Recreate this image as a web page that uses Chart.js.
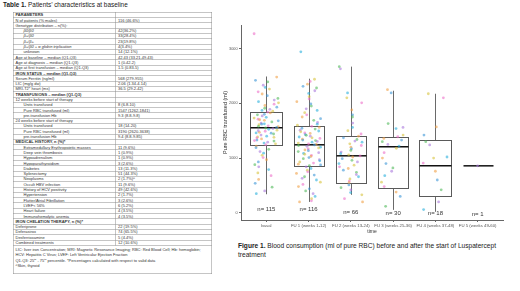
<!DOCTYPE html>
<html>
<head>
<meta charset="utf-8">
<script src="https://cdn.jsdelivr.net/npm/chart.js@4.4.1/dist/chart.umd.min.js"></script>
<style>
  html, body { margin: 0; padding: 0; background: #fff; }
  body { width: 520px; height: 291px; position: relative; overflow: hidden; font-family: "Liberation Sans", Arial, sans-serif; color: #222; }
  #title { position: absolute; left: 3px; top: 1px; font-size: 6.4px; white-space: nowrap; }
  #tableWrap { position: absolute; left: 13px; top: 12px; width: 398px; transform: scale(0.5); transform-origin: 0 0; }
  table { border-collapse: collapse; table-layout: fixed; width: 398px; font-size: 8px; color: #333; }
  td { border: 1.6px solid #8a8a8a; height: 9.6px; padding: 0 4px; line-height: 9.6px; white-space: nowrap; overflow: hidden; }
  td.l { width: 196px; }
  td.in { padding-left: 20px; }
  td.in2 { padding-left: 20px; font-style: italic; }
  tr.h td { font-weight: bold; }
  td.foot { height: 54px; line-height: 11px; white-space: normal; vertical-align: top; padding-top: 2px; }
  #chartBox { position: absolute; left: 215px; top: 15px; width: 300px; height: 225px; }
  #caption { position: absolute; left: 238px; top: 241px; font-size: 6.6px; line-height: 9px; white-space: nowrap; color: #222; }
</style>
</head>
<body>
<div id="title"><b>Table 1.</b> Patients’ characteristics at baseline</div>
<div id="tableWrap">
<table>
<tr class="h"><td class="l">PARAMETERS</td><td></td></tr>
<tr><td class="l">N of patients (% males)</td><td>116 (46.6%)</td></tr>
<tr><td class="l">Genotype distribution – n(%):</td><td></td></tr>
<tr><td class="l in2">β0/β0</td><td>42(36.2%)</td></tr>
<tr><td class="l in2">β+/β0</td><td>33(28.4%)</td></tr>
<tr><td class="l in2">β+/β+</td><td>23(19.8%)</td></tr>
<tr><td class="l in2">β+/β0 + α globin triplication</td><td>4(3.4%)</td></tr>
<tr><td class="l in">unknown</td><td>14 (12.1%)</td></tr>
<tr><td class="l">Age at baseline – median (Q1-Q3)</td><td>42.43 (33.21-49.43)</td></tr>
<tr><td class="l">Age at diagnosis – median (Q1-Q3)</td><td>1 (0.42-2)</td></tr>
<tr><td class="l">Age at first transfusion – median (Q1-Q3)</td><td>1.5 (0.83-5)</td></tr>
<tr class="h"><td class="l">IRON STATUS – median (Q1-Q3)</td><td></td></tr>
<tr><td class="l">Serum Ferritin (ng/ml)</td><td>568 (279-955)</td></tr>
<tr><td class="l">LIC (mg/g dw)</td><td>2.06 (1.34-4.14)</td></tr>
<tr><td class="l">MRI-T2* heart (ms)</td><td>36.5 (29.2-42)</td></tr>
<tr class="h"><td class="l">TRANSFUSIONS – median (Q1-Q3)</td><td></td></tr>
<tr><td class="l">12 weeks before start of therapy</td><td></td></tr>
<tr><td class="l in">Units transfused</td><td>8 (6.8-10)</td></tr>
<tr><td class="l in">Pure RBC transfused (ml)</td><td>1547 (1262-1841)</td></tr>
<tr><td class="l in">pre-transfusion Hb</td><td>9.3 (8.8-9.8)</td></tr>
<tr><td class="l">24 weeks before start of therapy</td><td></td></tr>
<tr><td class="l in">Units transfused</td><td>18 (14-20)</td></tr>
<tr><td class="l in">Pure RBC transfused (ml)</td><td>3190 (2620-3638)</td></tr>
<tr><td class="l in">pre-transfusion Hb</td><td>9.4 (8.8-9.85)</td></tr>
<tr class="h"><td class="l">MEDICAL HISTORY, n (%)*</td><td></td></tr>
<tr><td class="l in">Extramedullary Erythropoietic masses</td><td>11 (9.6%)</td></tr>
<tr><td class="l in">Deep vein thrombosis</td><td>1 (0.9%)</td></tr>
<tr><td class="l in">Hypoadrenalism</td><td>1 (0.9%)</td></tr>
<tr><td class="l in">Hypoparathyroidism</td><td>3 (2.6%)</td></tr>
<tr><td class="l in">Diabetes</td><td>13 (11.3%)</td></tr>
<tr><td class="l in">Splenectomy</td><td>51 (44.3%)</td></tr>
<tr><td class="l in">Neoplasms</td><td>2 (1.7%)^</td></tr>
<tr><td class="l in">Occult HBV infection</td><td>11 (9.6%)</td></tr>
<tr><td class="l in">History of HCV positivity</td><td>49 (42.6%)</td></tr>
<tr><td class="l in">Hypertension</td><td>2 (1.7%)</td></tr>
<tr><td class="l in">Flutter/Atrial Fibrillation</td><td>3 (2.6%)</td></tr>
<tr><td class="l in">LVEF&lt; 56%</td><td>6 (5.2%)</td></tr>
<tr><td class="l in">Heart failure</td><td>4 (3.5%)</td></tr>
<tr><td class="l in">Immunohemolytic anemia</td><td>4 (3.5%)</td></tr>
<tr class="h"><td class="l">IRON CHELATION THERAPY, n (%)*</td><td></td></tr>
<tr><td class="l">Deferiprone</td><td>22 (19.5%)</td></tr>
<tr><td class="l">Deferasirox</td><td>74 (65.5%)</td></tr>
<tr><td class="l">Desferrioxamine</td><td>5 (4.4%)</td></tr>
<tr><td class="l">Combined treatments</td><td>12 (10.6%)</td></tr>
<tr><td class="foot" colspan="2">LIC: liver iron Concentration; MRI: Magnetic Resonance Imaging; RBC: Red Blood Cell; Hb: hemoglobin;<br>HCV: Hepatitis C Virus; LVEF: Left Ventricular Ejection Fraction<br>Q1-Q3: 25<sup style="font-size:5px;line-height:0">th</sup> - 75<sup style="font-size:5px;line-height:0">th</sup> percentile. *Percentages calculated with respect to valid data<br>^Skin, thyroid</td></tr>
</table>
</div>

<div id="chartBox"><canvas id="rbc" width="300" height="225"></canvas></div>
<div id="caption"><b>Figure 1.</b> Blood consumption (ml of pure RBC) before and after the start of Luspatercept<br>treatment</div>

<script>
const groups = ['basal', 'FU 1 (weeks 1-12)', 'FU 2 (weeks 13-24)', 'FU 3 (weeks 25-36)', 'FU 4 (weeks 37-48)', 'FU 5 (weeks 49-60)'];
const counts = [115, 116, 66, 30, 18, 1];
const countLabelY = [70, 70, 15, 0, 0, -35];
const yTicks = [0, 1000, 2000, 3000];

// box statistics
const whiskerLow = [340, 200, 330, 55, 20, 859];
const q1 = [1243, 859, 548, 457, 311, 859];
const medians = [1554, 1243, 1042, 1207, 859, 859];
const q3 = [1846, 1590, 1408, 1389, 1335, 859];
const whiskerHigh = [2490, 2450, 2670, 2230, 2175, 859];

// individual patients (ml of pure RBC)
const basalRbc = [3270, 2480, 2420, 2390, 2330, 2290, 2260, 2210, 2170, 2140, 2090, 2060, 2030, 2010, 1985, 1960, 1930, 1910,
  1890, 1870, 1855, 1840, 1825, 1800, 1790, 1770, 1745, 1730, 1710, 1690, 1680, 1660, 1640, 1625, 1610, 1590, 1575, 1560,
  1550, 1540, 1525, 1510, 1490, 1470, 1455, 1440, 1420, 1400, 1385, 1370, 1350, 1330, 1310, 1290, 1275, 1260, 1245, 1700,
  1620, 1580, 1500, 1460, 1380, 1320, 1220, 1190, 1160, 1120, 1090, 1050, 1010, 970, 930, 880, 840, 790, 730, 680, 610, 540,
  470, 400, 350];
const fu1Rbc = [2940, 2440, 2400, 2350, 2310, 2280, 2230, 2180, 2120, 2080, 2030, 1990, 1950, 1900, 1870, 1830, 1790, 1750,
  1720, 1690, 1650, 1620, 1600, 1580, 1560, 1545, 1530, 1510, 1495, 1480, 1460, 1450, 1430, 1415, 1400, 1385, 1370, 1360,
  1345, 1330, 1320, 1305, 1290, 1275, 1260, 1250, 1240, 1230, 1215, 1200, 1185, 1170, 1150, 1135, 1120, 1100, 1085, 1070,
  1050, 1030, 1010, 990, 970, 950, 930, 910, 890, 875, 860, 840, 810, 780, 750, 720, 690, 660, 630, 600, 560, 520, 480, 440,
  400, 350, 300, 260, 220, 200];
const fu2Rbc = [2670, 2630, 2190, 2100, 2010, 1880, 1790, 1750, 1640, 1560, 1500, 1440, 1400, 1370, 1340, 1310, 1290, 1260,
  1230, 1200, 1170, 1140, 1110, 1080, 1060, 1040, 1020, 990, 960, 930, 900, 870, 840, 810, 780, 740, 700, 660, 620, 580, 550,
  510, 460, 420, 370, 330, 260, 200];
const fu3Rbc = [2250, 2190, 1630, 1560, 1540, 1420, 1390, 1360, 1330, 1300, 1250, 1220, 1180, 1100, 1000, 900, 820, 760, 680,
  560, 480, 380, 300, 120];
const fu4Rbc = [2175, 2100, 1570, 1420, 1300, 1240, 1020, 1000, 910, 760, 600, 420, 200, 60];
const fu5Rbc = [859];

const groupPoints = [basalRbc, fu1Rbc, fu2Rbc, fu3Rbc, fu4Rbc, fu5Rbc];
const palette = ['rgba(236,110,200,0.6)', 'rgba(40,175,220,0.6)', 'rgba(80,185,90,0.6)', 'rgba(240,160,70,0.6)',
  'rgba(215,195,60,0.6)', 'rgba(170,120,220,0.6)', 'rgba(60,150,215,0.6)'];

// sideways spread of the points: a fixed hash of the index, so it is the same on every run
function jitter(i, g) {
  const h = Math.sin(i * 12.9898 + g * 78.233) * 43758.5453;
  return ((h - Math.floor(h)) - 0.5) * 0.58;
}

const boxPlot = {
  id: 'boxPlot',
  beforeDatasetsDraw(chart) {
    const { ctx, scales: { x, y } } = chart;
    ctx.save();
    groups.forEach((g, i) => {
      const xc = Math.round(x.getPixelForValue(i)) + 0.5;
      const half = Math.round(x.getPixelForValue(i + 0.375) - xc);
      const yHi = y.getPixelForValue(whiskerHigh[i]);
      const yQ3 = Math.round(y.getPixelForValue(q3[i])) + 0.5;
      const yQ1 = Math.round(y.getPixelForValue(q1[i])) + 0.5;
      const yLo = y.getPixelForValue(whiskerLow[i]);
      const yMed = y.getPixelForValue(medians[i]);
      ctx.strokeStyle = '#6a6a6a';
      ctx.lineWidth = 1;
      ctx.beginPath();
      ctx.moveTo(xc, yHi); ctx.lineTo(xc, yQ3);
      ctx.moveTo(xc, yQ1); ctx.lineTo(xc, yLo);
      ctx.stroke();
      if (q3[i] > q1[i]) {
        ctx.strokeStyle = '#5a5a5a';
        ctx.strokeRect(xc - half, yQ3, half * 2, yQ1 - yQ3);
      }
      ctx.strokeStyle = '#111';
      ctx.lineWidth = 1.5;
      ctx.beginPath();
      ctx.moveTo(xc - half, yMed); ctx.lineTo(xc + half, yMed);
      ctx.stroke();
    });
    ctx.restore();
  },
  afterDatasetsDraw(chart) {
    const { ctx, scales: { x, y } } = chart;
    ctx.save();
    ctx.font = '6px "Liberation Sans", Arial, sans-serif';
    ctx.fillStyle = '#333';
    ctx.textAlign = 'center';
    ctx.textBaseline = 'middle';
    counts.forEach((n, i) => {
      ctx.fillText('n= ' + n, x.getPixelForValue(i), y.getPixelForValue(countLabelY[i]));
    });
    ctx.restore();
  }
};

new Chart('rbc', {
  type: 'scatter',
  data: {
    datasets: groupPoints.map((vals, g) => ({
      data: vals.map((v, i) => ({ x: g + (vals.length > 1 ? jitter(i, g) : 0), y: v })),
      backgroundColor: vals.map((v, i) => palette[(i * 3 + g) % palette.length]),
      pointRadius: 1.4,
      borderWidth: 0
    }))
  },
  options: {
    responsive: false,
    animation: false,
    devicePixelRatio: 1,
    layout: { padding: { top: 10, right: 12, left: 0, bottom: 0 } },
    plugins: { legend: { display: false }, tooltip: { enabled: false } },
    scales: {
      x: {
        type: 'linear',
        min: -0.6,
        max: 5.6,
        afterBuildTicks: s => { s.ticks = groups.map((g, i) => ({ value: i })); },
        afterFit: s => { s.height = 20; },
        grid: { drawOnChartArea: false, tickLength: 2, color: '#666' },
        border: { color: '#666' },
        ticks: {
          autoSkip: false, maxRotation: 0, padding: 1, color: '#555',
          font: { size: 4.3, family: '"Liberation Sans", Arial, sans-serif' },
          callback: v => groups[v]
        },
        title: { display: true, text: 'time', color: '#333', padding: { top: 0, bottom: 5 },
          font: { size: 5, family: '"Liberation Sans", Arial, sans-serif' } }
      },
      y: {
        min: -130,
        max: 3430,
        afterBuildTicks: s => { s.ticks = yTicks.map(v => ({ value: v })); },
        afterFit: s => { s.width = 26; },
        grid: { drawOnChartArea: false, tickLength: 2, color: '#666' },
        border: { color: '#666' },
        ticks: { autoSkip: false, padding: 1.5, color: '#555', callback: v => String(v),
          font: { size: 3.8, family: '"Liberation Sans", Arial, sans-serif' } },
        title: { display: true, text: 'Pure RBC transfused (ml)', color: '#333', padding: { top: 7, bottom: 0 },
          font: { size: 5.5, family: '"Liberation Sans", Arial, sans-serif' } }
      }
    }
  },
  plugins: [boxPlot]
});
</script>
</body>
</html>
